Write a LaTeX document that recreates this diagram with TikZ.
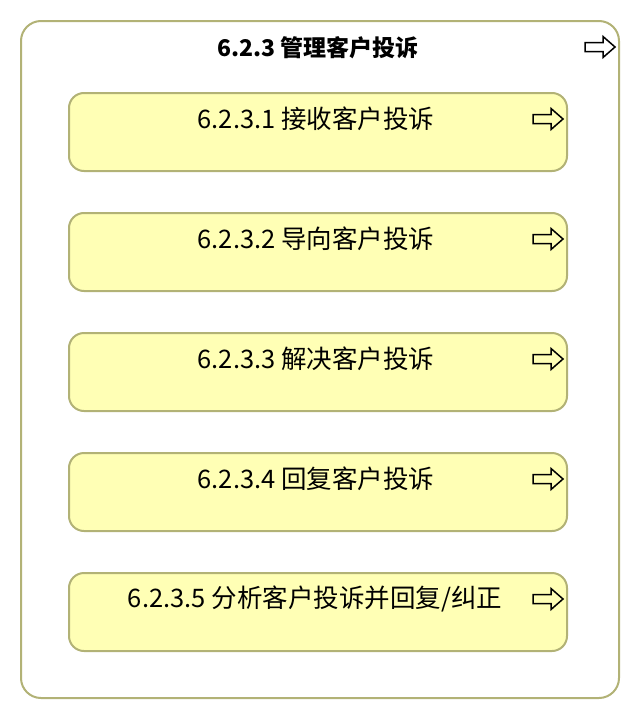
\documentclass[tikz,border=0pt]{standalone}
\usepackage{fontspec}
\setmainfont{Noto Sans CJK SC}
\usetikzlibrary{calc}
\definecolor{boxfill}{RGB}{255,255,181}
\definecolor{boxline}{RGB}{178,178,118}
\begin{document}
\begin{tikzpicture}[x=1pt,y=-1pt,
  outerbox/.style={draw=boxline,line width=2pt,rounded corners=20pt,minimum width=598pt,minimum height=677pt,inner sep=0pt},
  subbox/.style={draw=boxline,fill=boxfill,line width=2pt,rounded corners=15pt,minimum width=498pt,minimum height=78pt,inner sep=0pt},
  boxtext/.style={font=\fontsize{25.5pt}{28pt}\selectfont,inner sep=0pt},
  titletext/.style={font=\bfseries\fontsize{23pt}{26pt}\selectfont,inner sep=0pt},
  icon/.style={draw=black,line width=1.5pt,line join=miter},
  arrowicon/.pic={\draw[icon] (-15,-4.5) -- (3,-4.5) -- (3,-10.5) -- (15,0) -- (3,10.5) -- (3,4.5) -- (-15,4.5) -- cycle;}
]
\useasboundingbox (0,0) rectangle (640,720);
\node[outerbox] (outer) at (320,359.5) {};
\node[titletext] (title) at (318,48) {6.2.3 管理客户投诉};
\pic at ($(outer.north east)+(-20,27)$) {arrowicon};

\node[subbox] (b1) at (318,132) {};
\node[subbox] (b2) at (318,252) {};
\node[subbox] (b3) at (318,372) {};
\node[subbox] (b4) at (318,492) {};
\node[subbox] (b5) at (318,612) {};

\node[boxtext] (t1) at ($(b1.north)+(-2,27)$) {6.2.3.1 接收客户投诉};
\node[boxtext] (t2) at ($(b2.north)+(-2,27)$) {6.2.3.2 导向客户投诉};
\node[boxtext] (t3) at ($(b3.north)+(-2,27)$) {6.2.3.3 解决客户投诉};
\node[boxtext] (t4) at ($(b4.north)+(-2,27)$) {6.2.3.4 回复客户投诉};
\node[boxtext] (t5) at ($(b5.north)+(-3,27)$) {6.2.3.5 分析客户投诉并回复/纠正};

\foreach \b in {b1,b2,b3,b4,b5}{
  \pic at ($(\b.north east)+(-20,27)$) {arrowicon};
}
\end{tikzpicture}
\end{document}
